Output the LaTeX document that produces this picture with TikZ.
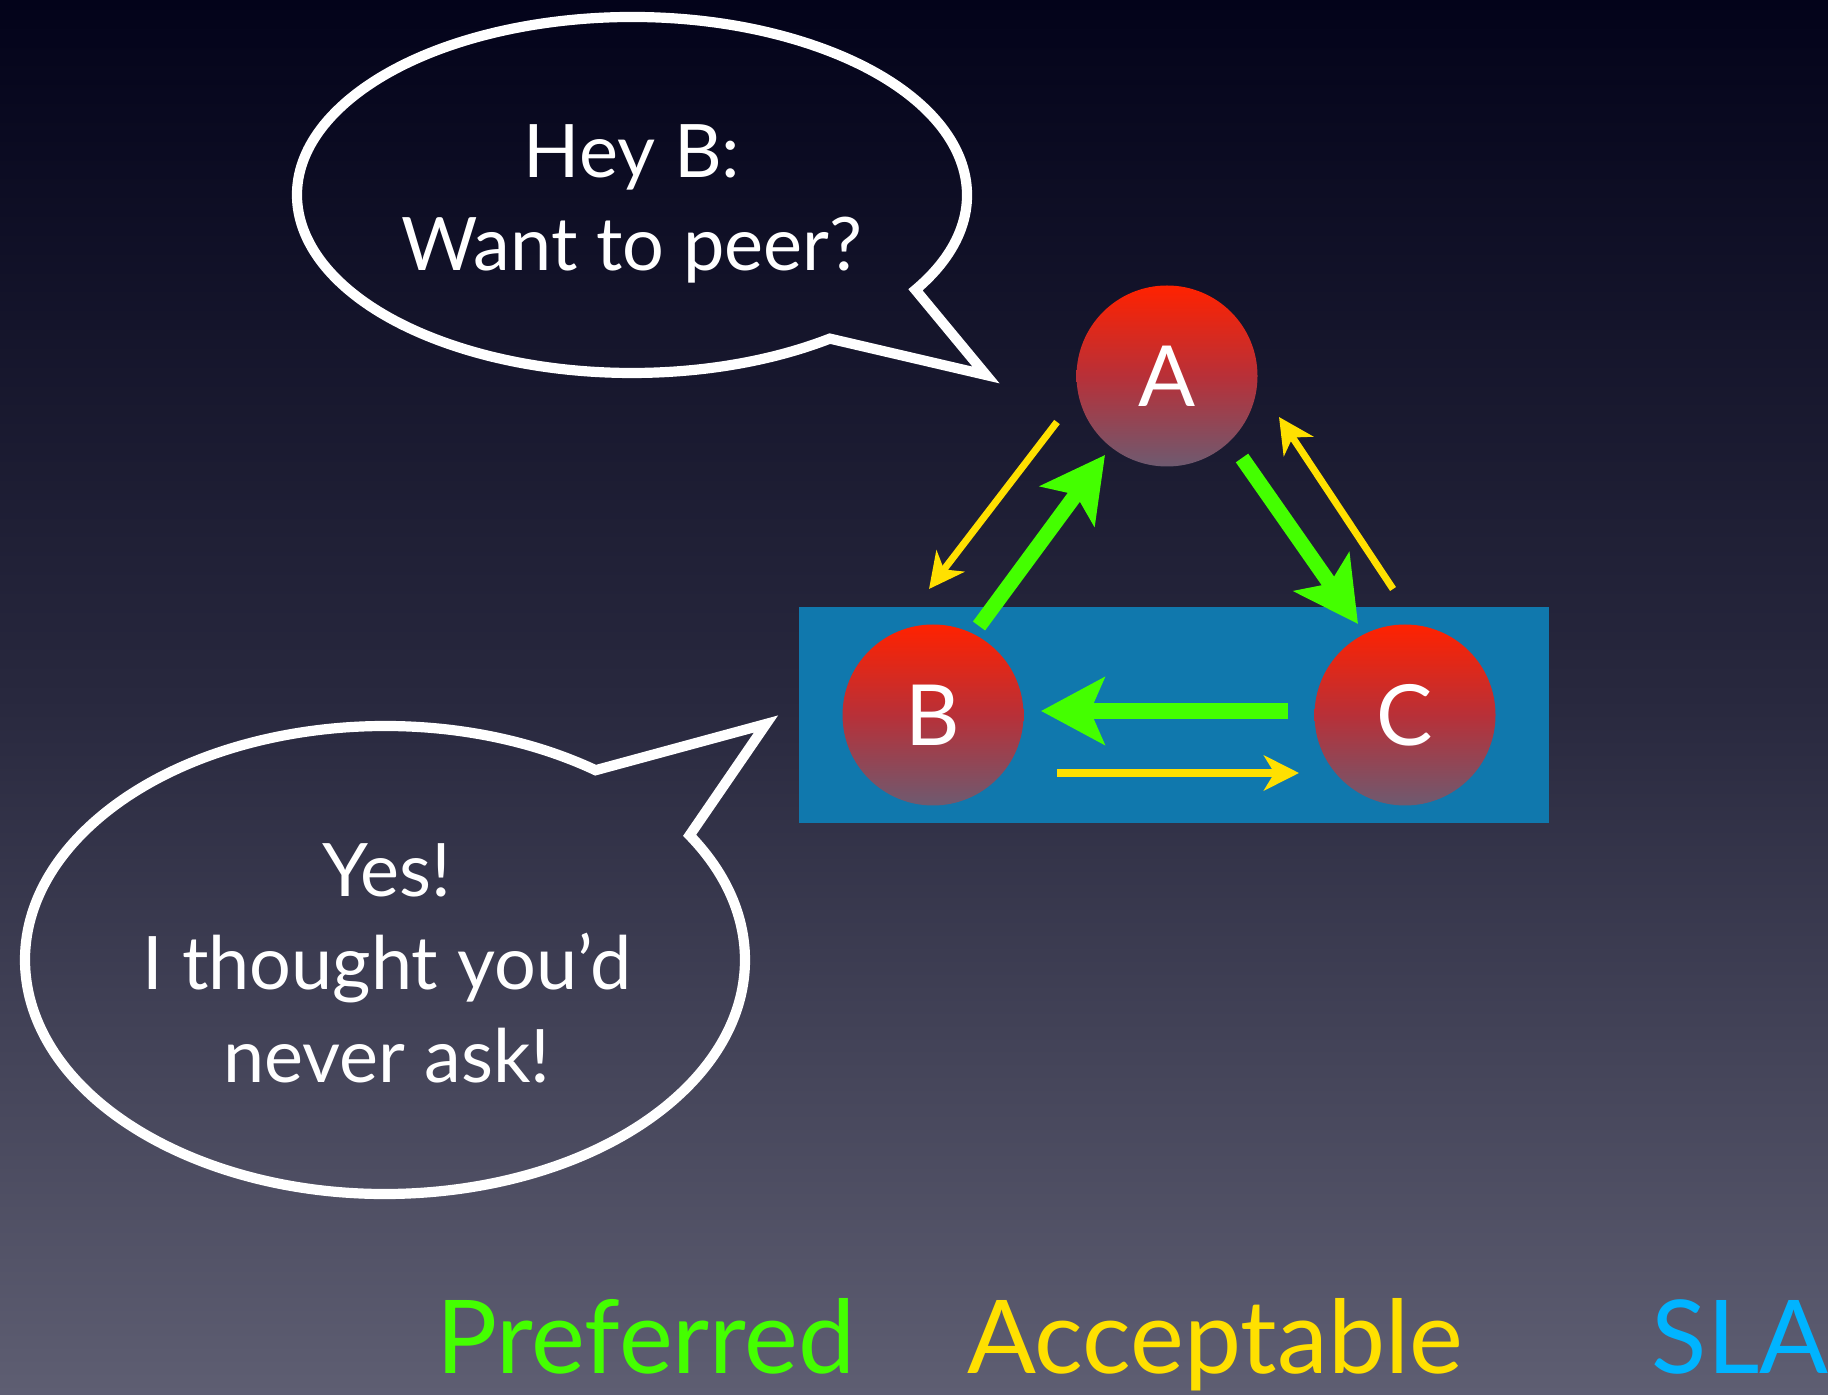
\documentclass[tikz,border=0pt]{standalone}
\usepackage{fontspec}
\setmainfont{Lato}
\usepackage{tikz}
\usetikzlibrary{arrows.meta,calc,positioning}
\definecolor{peernuit}{HTML}{03031A}
\definecolor{peermilieu}{HTML}{28283E}
\definecolor{peerbas}{HTML}{5E5E72}
\definecolor{peerbleu}{HTML}{1078AD}
\definecolor{peervert}{HTML}{44FF00}
\definecolor{peerjaune}{HTML}{FFE000}
\definecolor{peersla}{HTML}{00B4FF}
\definecolor{peerrouge}{HTML}{FF2200}
\definecolor{peerbordeaux}{HTML}{B83038}
\definecolor{peergris}{HTML}{6E5A70}

\begin{document}
\begin{tikzpicture}[
    x=1cm,y=1cm,
    noeud/.style  = {circle,minimum size=1.81cm,inner sep=0pt,text=white,
                     top color=peerrouge,bottom color=peergris,middle color=peerbordeaux,
                     font=\fontsize{24}{28}\selectfont},
    zone/.style   = {rectangle,fill=peerbleu,inner sep=0pt,
                     minimum width=7.5cm,minimum height=2.16cm},
    bulle/.style  = {draw=white,line width=2.9pt},
    parole/.style = {align=center,text=white,font=\fontsize{21}{26.5}\selectfont},
    prefere/.style= {peervert,line width=4.3pt,-{Stealth[length=18pt,width=19pt,inset=4pt]}},
    accept/.style = {peerjaune,line width=2pt,-{Stealth[length=10pt,width=10pt,inset=3pt]}},
    legende/.style= {anchor=base,font=\fontsize{29}{34}\selectfont},
  ]

  % ── Fond ──────────────────────────────────────────────────────────────────
  \useasboundingbox (0,0) rectangle (18.28,13.94);
  \clip (0,0) rectangle (18.28,13.94);
  \shade[top color=peernuit,bottom color=peerbas,middle color=peermilieu]
       (0,0) rectangle (18.28,13.94);

  % ── Zone SLA et les trois réseaux ─────────────────────────────────────────
  \node[zone]  (zone) at (11.74,6.79) {};
  \node[noeud] (A) at (11.67,10.18) {A};
  \node[noeud] (B) at (9.33,6.79)   {B};
  \node[noeud] (C) at (14.05,6.79)  {C};

  \draw[accept]  ($(A)+(-1.10,-0.46)$) -- ($(B)+(-0.04,1.26)$);
  \draw[prefere] ($(B)+(0.46,0.89)$)   -- ($(A)+(-0.62,-0.79)$);
  \draw[prefere] ($(A)+(0.75,-0.82)$)  -- ($(C)+(-0.47,0.91)$);
  \draw[accept]  ($(C)+(-0.12,1.26)$)  -- ($(A)+(1.12,-0.41)$);
  \draw[prefere] ($(C)+(-1.17,0.04)$)  -- ($(B)+(1.08,0.04)$);
  \draw[accept]  ($(B)+(1.24,-0.58)$)  -- ($(C)+(-1.06,-0.58)$);

  % ── Bulles ────────────────────────────────────────────────────────────────
  \coordinate (b1) at (6.32,11.99);
  \node[parole] (hey) at (6.32,11.90) {Hey B:\\Want to peer?};
  \draw[bulle] (b1) ++(-32.2:3.35 and 1.78)
       arc[start angle=-32.2,end angle=306.2,x radius=3.35,y radius=1.78]
       -- (9.86,10.19) -- cycle;

  \coordinate (b2) at (3.85,4.34);
  \node[parole] (yes) at (3.87,4.31) {Yes!\\I thought you'd\\never ask!};
  \draw[bulle] (b2) ++(54.2:3.60 and 2.34)
       arc[start angle=54.2,end angle=392.2,x radius=3.60,y radius=2.34]
       -- (7.66,6.70) -- cycle;

  % ── Légende ───────────────────────────────────────────────────────────────
  \node[legende,text=peervert]  (pref) at (6.46,0.21)  {Preferred};
  \node[legende,text=peerjaune] (acc)  at (12.15,0.21) {Acceptable};
  \node[legende,text=peersla]   (sla)  at (17.40,0.21) {SLA};

\end{tikzpicture}
\end{document}
